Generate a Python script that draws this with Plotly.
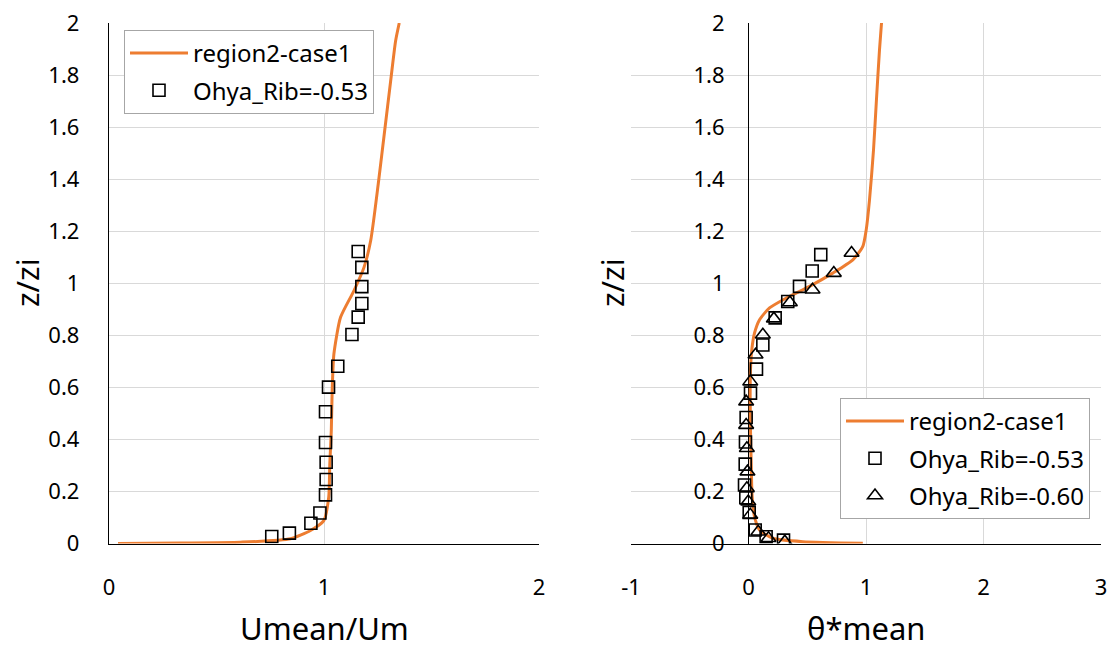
import plotly.graph_objects as go

# ---------------- data ----------------
# Left panel: mean wind speed profile
u_model_x = [0.042, 0.33, 0.611, 0.844, 0.937, 0.999, 1.022, 1.027, 1.034, 1.038,
             1.046, 1.077, 1.139, 1.186, 1.217, 1.254, 1.282, 1.310, 1.333, 1.350]
u_model_z = [0.0, 0.002, 0.005, 0.018, 0.05, 0.088, 0.178, 0.306, 0.434, 0.587,
             0.728, 0.869, 0.971, 1.061, 1.163, 1.393, 1.585, 1.777, 1.931, 2.0]

u_ohya053_x = [1.159, 1.176, 1.176, 1.176, 1.159, 1.130, 1.064, 1.021, 1.007, 1.007,
               1.010, 1.010, 1.007, 0.981, 0.939, 0.839, 0.757]
u_ohya053_z = [1.122, 1.061, 0.987, 0.922, 0.870, 0.803, 0.681, 0.601, 0.506, 0.388,
               0.312, 0.246, 0.187, 0.117, 0.078, 0.040, 0.027]

# Right panel: mean potential temperature profile
t_model_x = [0.973, 0.462, 0.207, 0.094, 0.051, 0.031, 0.023, 0.017, 0.014, 0.017,
             0.028, 0.051, 0.094, 0.179, 0.321, 0.519, 0.717, 0.888, 0.973, 1.002,
             1.030, 1.064, 1.089, 1.115, 1.132]
t_model_z = [0.001, 0.007, 0.020, 0.052, 0.103, 0.180, 0.308, 0.437, 0.565, 0.667,
             0.744, 0.808, 0.860, 0.905, 0.943, 0.988, 1.039, 1.090, 1.142, 1.206,
             1.321, 1.513, 1.706, 1.898, 2.0]

t_ohya053_x = [0.615, 0.542, 0.434, 0.334, 0.227, 0.122, 0.068, 0.017, -0.020, -0.026,
               -0.028, -0.034, -0.023, 0.006, 0.057, 0.150, 0.298]
t_ohya053_z = [1.110, 1.047, 0.988, 0.930, 0.867, 0.763, 0.670, 0.578, 0.484, 0.390,
               0.305, 0.225, 0.176, 0.119, 0.052, 0.026, 0.013]

t_ohya060_x = [0.877, 0.726, 0.545, 0.352, 0.216, 0.122, 0.060, 0.015, -0.020, -0.020,
               -0.014, -0.009, -0.014, -0.002, 0.015, 0.083, 0.170, 0.309]
t_ohya060_z = [1.116, 1.039, 0.975, 0.926, 0.864, 0.802, 0.725, 0.622, 0.545, 0.455,
               0.366, 0.276, 0.212, 0.161, 0.110, 0.045, 0.020, 0.007]

y_ticks = [0, 0.2, 0.4, 0.6, 0.8, 1, 1.2, 1.4, 1.6, 1.8, 2]
y_ticktext = ["0", "0.2", "0.4", "0.6", "0.8", "1", "1.2", "1.4", "1.6", "1.8", "2"]
xl_ticks = [0, 1, 2]
xl_ticktext = ["0", "1", "2"]
xr_ticks = [-1, 0, 1, 2, 3]
xr_ticktext = ["-1", "0", "1", "2", "3"]

# ---------------- style ----------------
W, H = 1113, 653
ORANGE = "#ED7D31"
GRID = "#D9D9D9"
FONT = "Noto Sans"
TICK_SIZE = 22
LEG_SIZE = 24
TITLE_SIZE = 31

L_DOM = [109 / W, 539 / W]
R_DOM = [631 / W, 1101 / W]
Y_DOM = [(H - 543.5) / H, (H - 23) / H]
R_ZERO = R_DOM[0] + (R_DOM[1] - R_DOM[0]) * 0.25  # paper x of theta=0

fig = go.Figure()

fig.add_trace(go.Scatter(x=u_model_x, y=u_model_z, mode="lines", name="region2-case1",
                         line=dict(color=ORANGE, width=3, shape="spline", smoothing=0.6),
                         xaxis="x", yaxis="y", legend="legend", legendgroup="a"))
fig.add_trace(go.Scatter(x=u_ohya053_x, y=u_ohya053_z, mode="markers", name="Ohya_Rib=-0.53",
                         marker=dict(symbol="square-open", size=12, color="black",
                                     line=dict(width=1.6)),
                         xaxis="x", yaxis="y", legend="legend", legendgroup="b"))

fig.add_trace(go.Scatter(x=t_model_x, y=t_model_z, mode="lines", name="region2-case1",
                         line=dict(color=ORANGE, width=3, shape="spline", smoothing=0.6),
                         xaxis="x2", yaxis="y2", legend="legend2", legendgroup="c"))
fig.add_trace(go.Scatter(x=t_ohya053_x, y=t_ohya053_z, mode="markers", name="Ohya_Rib=-0.53",
                         marker=dict(symbol="square-open", size=12, color="black",
                                     line=dict(width=1.6)),
                         xaxis="x2", yaxis="y2", legend="legend2", legendgroup="d"))
fig.add_trace(go.Scatter(x=t_ohya060_x, y=t_ohya060_z, mode="markers", name="Ohya_Rib=-0.60",
                         marker=dict(symbol="triangle-up-open", size=13, color="black",
                                     line=dict(width=1.6)),
                         xaxis="x2", yaxis="y2", legend="legend2", legendgroup="e"))

tickfont = dict(family=FONT, size=TICK_SIZE, color="black")

fig.update_layout(
    width=W, height=H,
    margin=dict(l=0, r=0, t=0, b=0, autoexpand=False),
    paper_bgcolor="white", plot_bgcolor="white",
    font=dict(family=FONT, color="black"),
    xaxis=dict(domain=L_DOM, anchor="y", range=[0, 2], tickvals=xl_ticks, ticktext=xl_ticktext,
               showgrid=True, gridcolor=GRID, gridwidth=1, zeroline=False,
               showline=True, linecolor="black", linewidth=1.3, automargin=False,
               ticks="", tickfont=tickfont, ticklabelstandoff=24),
    yaxis=dict(domain=Y_DOM, anchor="x", range=[0, 2], tickvals=y_ticks, ticktext=y_ticktext,
               showgrid=True, gridcolor=GRID, gridwidth=1, zeroline=False,
               showline=True, linecolor="black", linewidth=1.3, automargin=False,
               ticks="", tickfont=tickfont, ticklabelstandoff=24),
    xaxis2=dict(domain=R_DOM, anchor="y2", range=[-1, 3], tickvals=xr_ticks, ticktext=xr_ticktext,
                showgrid=True, gridcolor=GRID, gridwidth=1,
                zeroline=True, zerolinecolor="black", zerolinewidth=1.3,
                showline=True, linecolor="black", linewidth=1.3, automargin=False,
                ticks="", tickfont=tickfont, ticklabelstandoff=24),
    yaxis2=dict(domain=Y_DOM, anchor="free", position=R_ZERO, range=[0, 2],
                tickvals=y_ticks, ticktext=y_ticktext,
                showgrid=True, gridcolor=GRID, gridwidth=1, zeroline=False,
                showline=False, ticks="", tickfont=tickfont, ticklabelstandoff=24,
                automargin=False),
    legend=dict(x=124 / W, y=1 - 30 / H, xanchor="left", yanchor="top",
                bgcolor="white", bordercolor="#A6A6A6", borderwidth=1,
                font=dict(family=FONT, size=LEG_SIZE, color="black"),
                itemwidth=58, tracegroupgap=3),
    legend2=dict(x=840 / W, y=1 - 398 / H, xanchor="left", yanchor="top",
                 bgcolor="white", bordercolor="#A6A6A6", borderwidth=1,
                 font=dict(family=FONT, size=LEG_SIZE, color="black"),
                 itemwidth=58, tracegroupgap=3),
    showlegend=True,
)

title_font = dict(family=FONT, size=TITLE_SIZE, color="black")
for txt, px, py, ang in [("z/zi", 27, 283, -90), ("z/zi", 612, 283, -90),
                         ("Umean/Um", 324, 628, 0), ("θ*mean", 866, 628, 0)]:
    fig.add_annotation(text=txt, x=px / W, y=1 - py / H, xref="paper", yref="paper",
                       xanchor="center", yanchor="middle", textangle=ang,
                       showarrow=False, font=title_font)

fig.write_html("out.html")
